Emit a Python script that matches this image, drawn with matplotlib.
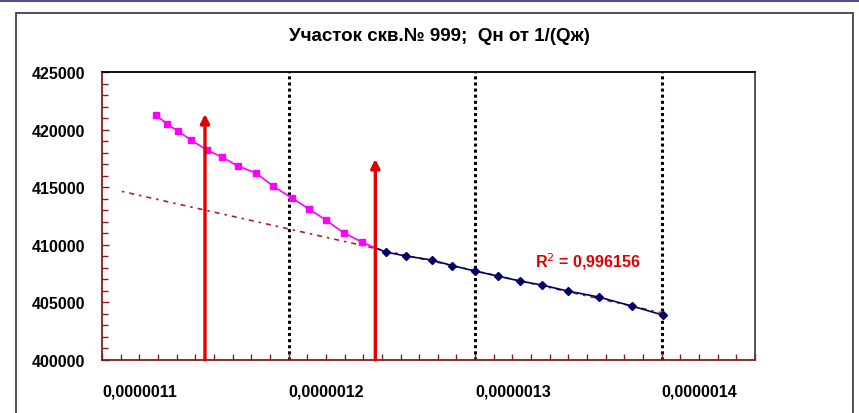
import numpy as np
import matplotlib.pyplot as plt
from matplotlib.patches import Rectangle
from matplotlib.ticker import MultipleLocator, FuncFormatter

plt.rcParams['font.family'] = ['Liberation Sans', 'DejaVu Sans']

# Data
x_early = [1.1289e-6, 1.1348e-6, 1.1407e-6, 1.1477e-6, 1.1562e-6, 1.1643e-6, 1.1728e-6,
           1.1825e-6, 1.1916e-6, 1.2018e-6, 1.2109e-6, 1.2200e-6, 1.2296e-6, 1.2393e-6,
           1.2465e-6]
y_early = [421266, 420485, 419877, 419096, 418228, 417620, 416839,
           416232, 415103, 414062, 413107, 412152, 411024, 410242,
           409722]

x_late = [1.2465e-6, 1.2521e-6, 1.2628e-6, 1.2768e-6, 1.2875e-6, 1.2998e-6, 1.3121e-6,
          1.3239e-6, 1.3357e-6, 1.3496e-6, 1.3662e-6, 1.3839e-6, 1.4005e-6]
y_late = [409722, 409374, 409027, 408680, 408203, 407725, 407291,
          406857, 406510, 405989, 405468, 404687, 403906]

trend_x_start = 1.1107e-6
r2_text = 'R$^2$ = 0,996156'

arrow_x = [1.1552e-6, 1.2465e-6]
arrow_top = [421353, 417450]

grid_x = [1.2e-6, 1.3e-6, 1.4e-6]
x_labels = ['0,0000011', '0,0000012', '0,0000013', '0,0000014']

title = 'Участок скв.№ 999;  Qн от 1/(Qж)'

fig = plt.figure(figsize=(8.59, 4.14), dpi=100)

# outer frame
fig.patches.append(Rectangle((16 / 859, -0.05), (853 - 16) / 859, 1.05 - 14 / 414,
                             transform=fig.transFigure, fill=False,
                             edgecolor='#333333', lw=1.2))
fig.patches.append(Rectangle((0, 1 - 3 / 414), 1, 3 / 414, transform=fig.transFigure,
                             facecolor='#5b4b8a', edgecolor='none'))

ax = fig.add_axes([102 / 859, 53 / 414, 653 / 859, 288 / 414])
ax.set_xlim(1.1e-6, 1.45e-6)
ax.set_ylim(400000, 425000)

for gx in grid_x:
    ax.axvline(gx, color='black', lw=2.2, linestyle=(0, (1, 1)), zorder=1)

# trend line fitted on the late segment
coef = np.polyfit(np.array(x_late) * 1e6, y_late, 1)
tx = np.array([trend_x_start, x_late[-1]])
ax.plot(tx, np.polyval(coef, tx * 1e6), color='#b02020', lw=1.2,
        linestyle=(0, (1.5, 3, 3, 3)), zorder=2)

ax.plot(x_early, y_early, color='#ff00ff', lw=1.2, marker='s', ms=4.5,
        markevery=list(range(len(x_early) - 1)), zorder=3)
ax.plot(x_late, y_late, color='#000066', lw=1.2, marker='D', ms=3.8,
        markevery=list(range(1, len(x_late))), zorder=3)

for axx, top in zip(arrow_x, arrow_top):
    ax.annotate('', xy=(axx, top), xytext=(axx, 400000),
                arrowprops=dict(arrowstyle='-|>', color='#e00000', lw=2.4,
                                mutation_scale=13, shrinkA=0, shrinkB=0),
                zorder=4)

ax.text(1.3319e-6, 408593, r2_text, color='#e00000', fontsize=11.5,
        fontweight='bold', va='center', ha='left')

# axes styling
ax.xaxis.set_major_locator(MultipleLocator(1e-7))
ax.xaxis.set_minor_locator(MultipleLocator(1e-8))
ax.yaxis.set_major_locator(MultipleLocator(5000))
ax.yaxis.set_minor_locator(MultipleLocator(1000))
ax.set_xticks([1.1e-6, 1.2e-6, 1.3e-6, 1.4e-6])
ax.set_xticklabels(x_labels)
ax.yaxis.set_major_formatter(FuncFormatter(lambda v, p: f'{v:.0f}'))
for lbl in ax.get_xticklabels():
    lbl.set_horizontalalignment('left')
ax.tick_params(axis='both', which='both', direction='in', colors='#8b1a1a',
               labelcolor='black', labelsize=11.5)
ax.tick_params(axis='both', which='major', length=5, width=1)
ax.tick_params(axis='both', which='minor', length=4, width=1)
ax.tick_params(axis='x', pad=17)
ax.tick_params(axis='y', pad=12)
for lbl in ax.get_xticklabels() + ax.get_yticklabels():
    lbl.set_fontweight('bold')

ax.spines['left'].set_color('#8b1a1a')
ax.spines['bottom'].set_color('#8b1a1a')
ax.spines['top'].set_color('black')
ax.spines['right'].set_color('#444444')
for s in ax.spines.values():
    s.set_linewidth(1.3)

fig.text(439 / 859, 1 - 36 / 414, title, ha='center', va='center',
         fontsize=13.5, fontweight='bold')

fig.savefig('out.png', dpi=100)
